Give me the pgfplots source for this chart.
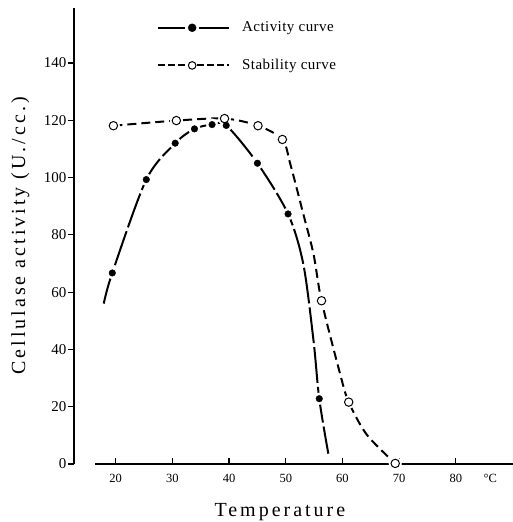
\documentclass[border=0pt]{standalone}
\usepackage{fontspec}
\setmainfont{Liberation Serif}
\usepackage{pgfplots}
\pgfplotsset{compat=1.18}

\begin{document}
\begin{tikzpicture}
\begin{axis}[
  scale only axis, width=439pt, height=456pt,
  xmin=12.65, xmax=90.07, ymin=0, ymax=159.2,
  axis x line*=bottom, axis y line*=left,
  x axis line style={draw=none},
  y axis line style={line width=2pt},
  xtick={20,30,...,80}, ytick={0,20,...,140},
  xtick align=inside, ytick align=outside,
  major tick length=6pt,
  tick style={line width=1.2pt, black},
  /pgf/number format/assume math mode=true,
  xticklabel style={font=\fontsize{12.5}{12.5}\selectfont, yshift=-7pt},
  yticklabel style={font=\fontsize{15}{15}\selectfont, inner xsep=1.5pt},
  xlabel={\addfontfeature{LetterSpace=15}Temperature},
  ylabel={\addfontfeature{LetterSpace=15}Cellulase activity (U./cc.)},
  label style={font=\fontsize{20}{20}\selectfont},
  xlabel style={at={(axis description cs:0.469,-0.1162)}, anchor=base},
  ylabel style={at={(axis description cs:-0.1116,0.5)}, anchor=base},
  clip=false,
  legend cell align=left,
  legend style={draw=none, fill=none, at={(axis description cs:0.189,0.974)},
    anchor=north west, font=\fontsize{15}{15}\selectfont\addfontfeature{LetterSpace=3},
    row sep=22pt, column sep=10pt, inner sep=0pt},
]
% activity curve
\addplot[forget plot, smooth, line width=2pt, dash pattern=on 36pt off 4pt] coordinates {
  (17.9,56) (19.4,66.7) (25.4,99.3) (30.5,112) (33.9,117) (37,118.5) (39.5,118.2)
  (45,105) (50.4,87.3) (53.1,69.7) (54.9,42.9) (55.9,22.8) (57.5,3.6)};
% stability curve
\addplot[forget plot, smooth, line width=2pt, dash pattern=on 9pt off 5pt] coordinates {
  (19.6,118.1) (30.7,119.9) (39.2,120.6) (45.1,118.1) (49.4,113.3) (50.8,104.7)
  (53.1,87.2) (54.9,73.2) (56.3,57) (59.6,31.3) (61.1,21.6) (64.3,10.2) (69.3,0.2)};
% x axis line, starting right of the y axis
\draw[line width=1.8pt] (axis cs:16.35,0) -- (axis cs:90.07,0);
% white gaps round the marks
\addplot[forget plot, only marks, white, mark=*, mark size=5.8pt] coordinates {
  (19.4,66.7) (25.4,99.3) (30.5,112) (33.9,117) (37,118.5) (39.5,118.2)
  (45,105) (50.4,87.3) (55.9,22.8)};
\addplot[forget plot, only marks, white, mark=*, mark size=6.3pt] coordinates {
  (19.6,118.1) (30.7,119.9) (39.2,120.6) (45.1,118.1) (49.4,113.3)
  (56.3,57) (61.1,21.6) (69.3,0.2)};
\addplot[forget plot, only marks, black, mark=*, mark size=4.2pt, mark options={fill=white, line width=1pt}] coordinates {
  (19.6,118.1) (30.7,119.9) (39.2,120.6) (45.1,118.1) (49.4,113.3)
  (56.3,57) (61.1,21.6) (69.3,0.2)};
\addplot[forget plot, only marks, black, mark=*, mark size=3.3pt] coordinates {
  (19.4,66.7) (25.4,99.3) (30.5,112) (33.9,117) (37,118.5) (39.5,118.2)
  (45,105) (50.4,87.3) (55.9,22.8)};
\node[font=\fontsize{12.5}{12.5}\selectfont, anchor=center] at (axis cs:86.05,-5.2) {°C};
% legend
\addlegendimage{legend image code/.code={
  \draw[line width=2pt] (0pt,0pt) -- (27pt,0pt) (41pt,0pt) -- (71pt,0pt);
  \fill (34pt,0pt) circle (4pt);}}
\addlegendentry{Activity curve}
\addlegendimage{legend image code/.code={
  \draw[line width=2pt, dash pattern=on 7pt off 3pt] (0pt,0pt) -- (29pt,0pt) (39pt,0pt) -- (71pt,0pt);
  \draw[line width=1pt] (34pt,0pt) circle (3.8pt);}}
\addlegendentry{Stability curve}
\end{axis}
\pgfresetboundingbox
\path[use as bounding box] ([xshift=-74pt,yshift=-58pt]current axis.south west)
  rectangle ([yshift=8pt]current axis.north east);
\end{tikzpicture}
\end{document}
